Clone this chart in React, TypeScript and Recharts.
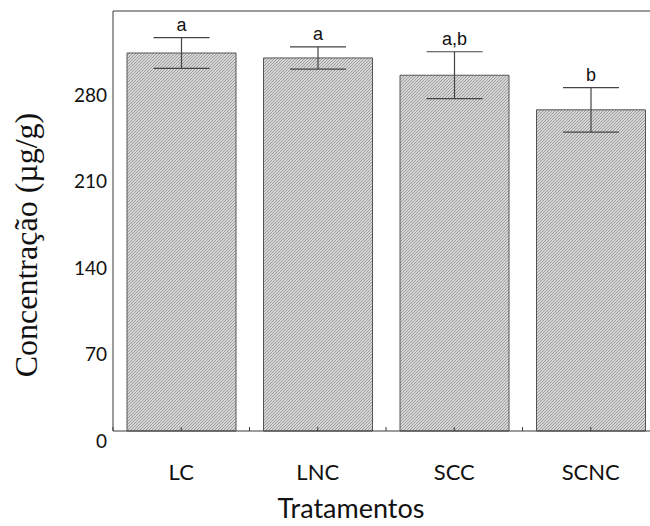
import React from "react";
import { BarChart, Bar, XAxis, YAxis, ErrorBar, LabelList, ReferenceLine } from "recharts";

// Tratamentos e concentração média (µg/g) com desvio
const categories = ["LC", "LNC", "SCC", "SCNC"];
const means = [306, 302, 288, 260];
const errors = [12.5, 9, 19, 18];
const groups = ["a", "a", "a,b", "b"];
const yTicks = [0, 70, 140, 210, 280];
const minorTicks = [0, 51, 103, 155, 206, 257, 309];
const Y_MAX = 340;

const data = categories.map((name, i) => ({
  name,
  mean: means[i],
  err: errors[i],
  group: groups[i],
}));

const AXIS = "#3a3a3a";

function XTick(props: any) {
  const { x, y, payload } = props;
  const half = payload && payload.offset ? payload.offset : 0;
  return (
    <g>
      <line x1={x} y1={y} x2={x} y2={y - 4} stroke={AXIS} />
      {half > 0 && <line x1={x - half} y1={y} x2={x - half} y2={y - 4} stroke={AXIS} />}
      <text x={x} y={y + 49} textAnchor="middle" fontFamily="Lato" fontSize={22} fill="#111">
        {payload.value}
      </text>
    </g>
  );
}

function YTick(props: any) {
  const { x, y, payload } = props;
  return (
    <text x={x} y={y + 10} dy="0.36em" textAnchor="end" fontFamily="Lato" fontSize={19} fill="#111">
      {payload.value}
    </text>
  );
}

function YTitle(props: any) {
  const vb = props.viewBox;
  const cx = vb.x + 37;
  const cy = vb.y + vb.height / 2 + 24;
  return (
    <text
      x={cx}
      y={cy}
      transform={`rotate(-90 ${cx} ${cy})`}
      textAnchor="middle"
      fontFamily="Liberation Serif"
      fontSize={32}
      fill="#111"
    >
      Concentração (µg/g)
    </text>
  );
}

function XTitle(props: any) {
  const vb = props.viewBox;
  return (
    <text x={351} y={vb.y + 87} textAnchor="middle" fontFamily="Lato" fontSize={27} fill="#111">
      Tratamentos
    </text>
  );
}

const renderGroup = (props: any) => {
  const { x, y, width, height, index } = props;
  const perUnit = height / means[index];
  const top = y - errors[index] * perUnit;
  return (
    <text
      x={x + width / 2}
      y={top - 7}
      textAnchor="middle"
      fontFamily="Liberation Sans"
      fontSize={18}
      fill="#111"
    >
      {groups[index]}
    </text>
  );
};

export default function App() {
  return (
    <div
      style={{
        position: "absolute",
        left: 0,
        top: 0,
        width: 650,
        height: 526,
        overflow: "hidden",
        background: "#fff",
      }}
    >
      <BarChart
        width={660}
        height={526}
        data={data}
        margin={{ top: 11, right: 1, bottom: 0, left: 0 }}
      >
        <defs>
          <pattern id="hatch" patternUnits="userSpaceOnUse" width={3} height={3}>
            <rect width={3} height={3} fill="#d6d6d6" />
            <path d="M0,3 L3,0 M-1,1 L1,-1 M2,4 L4,2" stroke="#8e8e8e" strokeWidth={0.8} />
          </pattern>
        </defs>
        <XAxis
          dataKey="name"
          height={95}
          stroke={AXIS}
          tickLine={false}
          tickSize={0}
          tickMargin={0}
          tick={<XTick />}
          interval={0}
          label={<XTitle />}
        />
        <YAxis
          width={113}
          domain={[0, Y_MAX]}
          ticks={yTicks}
          interval={0}
          stroke={AXIS}
          tickLine={false}
          tickSize={0}
          tickMargin={6}
          tick={<YTick />}
          label={<YTitle />}
        />
        <YAxis
          yAxisId="minor"
          mirror
          width={0}
          domain={[0, Y_MAX]}
          ticks={minorTicks}
          interval={0}
          axisLine={false}
          tick={false}
          tickSize={4}
          stroke="#888"
        />
        <ReferenceLine y={Y_MAX} stroke={AXIS} strokeWidth={1.2} />
        <Bar
          dataKey="mean"
          barSize={109}
          fill="url(#hatch)"
          stroke="#555"
          strokeWidth={1}
          isAnimationActive={false}
        >
          <ErrorBar dataKey="err" width={28} stroke="#444" strokeWidth={1.2} direction="y" />
          <LabelList dataKey="group" content={renderGroup} />
        </Bar>
      </BarChart>
    </div>
  );
}
